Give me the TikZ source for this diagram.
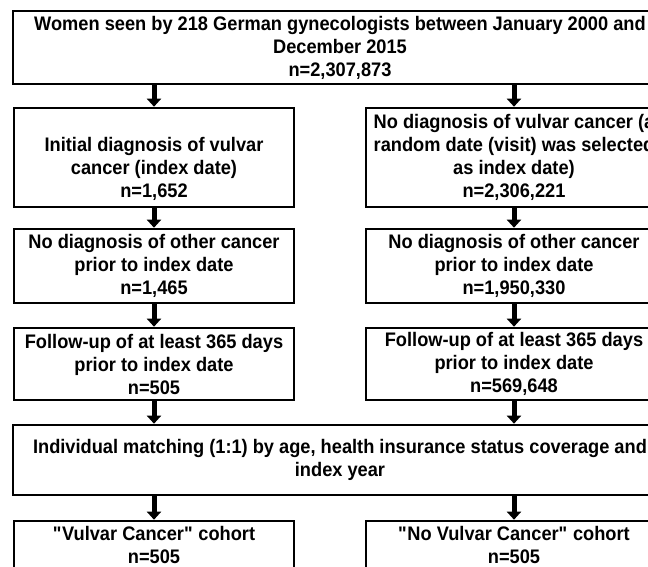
\documentclass[tikz,border=0pt]{standalone}
\usepackage{fontspec}
\setmainfont{Liberation Sans}[FakeStretch=0.93]
\usetikzlibrary{arrows.meta}

\begin{document}
\begin{tikzpicture}[x=1pt,y=-1pt,
    box/.style={draw,line width=2.6pt,inner sep=0pt,align=center,
      font=\bfseries\fontsize{19.6}{23}\selectfont},
    flow/.style={line width=5pt,-{Triangle[length=8pt,width=14pt]}}]
      \useasboundingbox (0,0) rectangle (648,566);
      \clip (0,0) rectangle (648,566);
      \node[box,minimum width=654pt,minimum height=73pt] (top) at (340,47.5)
        {Women seen by 218 German gynecologists between January 2000 and\\December 2015\\n=2,307,873};
      % left column
      \node[box,minimum width=280pt,minimum height=99pt] (vul1) at (154,157.5)
        {\vphantom{(}\\Initial diagnosis of vulvar\\cancer (index date)\\n=1,652};
      \node[box,minimum width=280pt,minimum height=74pt] (vul2) at (154,266)
        {No diagnosis of other cancer\\prior to index date\\n=1,465};
      \node[box,minimum width=280pt,minimum height=72pt] (vul3) at (154,364)
        {Follow-up of at least 365 days\\prior to index date\\n=505};
      % right column
      \node[box,minimum width=296pt,minimum height=99pt] (no1) at (514,157.5)
        {No diagnosis of vulvar cancer (a\\random date (visit) was selected\\as index date)\\n=2,306,221};
      \node[box,minimum width=296pt,minimum height=74pt] (no2) at (514,266)
        {No diagnosis of other cancer\\prior to index date\\n=1,950,330};
      \node[box,minimum width=296pt,minimum height=72pt] (no3) at (514,364)
        {Follow-up of at least 365 days\\prior to index date\\n=569,648};
      \node[box,minimum width=654pt,minimum height=70pt] (match) at (340,460)
        {Individual matching (1:1) by age, health insurance status coverage and\\index year};
      \node[box,minimum width=280pt,minimum height=48pt] (vulco) at (154,545)
        {\textquotedbl Vulvar Cancer\textquotedbl{} cohort\\n=505};
      \node[box,minimum width=296pt,minimum height=48pt] (noco) at (514,545)
        {\textquotedbl No Vulvar Cancer\textquotedbl{} cohort\\n=505};
      \draw[flow] (top.south -| vul1.north) -- (vul1.north);
      \draw[flow] (top.south -| no1.north) -- (no1.north);
      \draw[flow] (vul1) -- (vul2);
      \draw[flow] (no1) -- (no2);
      \draw[flow] (vul2) -- (vul3);
      \draw[flow] (no2) -- (no3);
      \draw[flow] (vul3) -- (vul3 |- match.north);
      \draw[flow] (no3) -- (no3 |- match.north);
      \draw[flow] (match.south -| vulco.north) -- (vulco.north);
      \draw[flow] (match.south -| noco.north) -- (noco.north);
    \end{tikzpicture}
\end{document}
